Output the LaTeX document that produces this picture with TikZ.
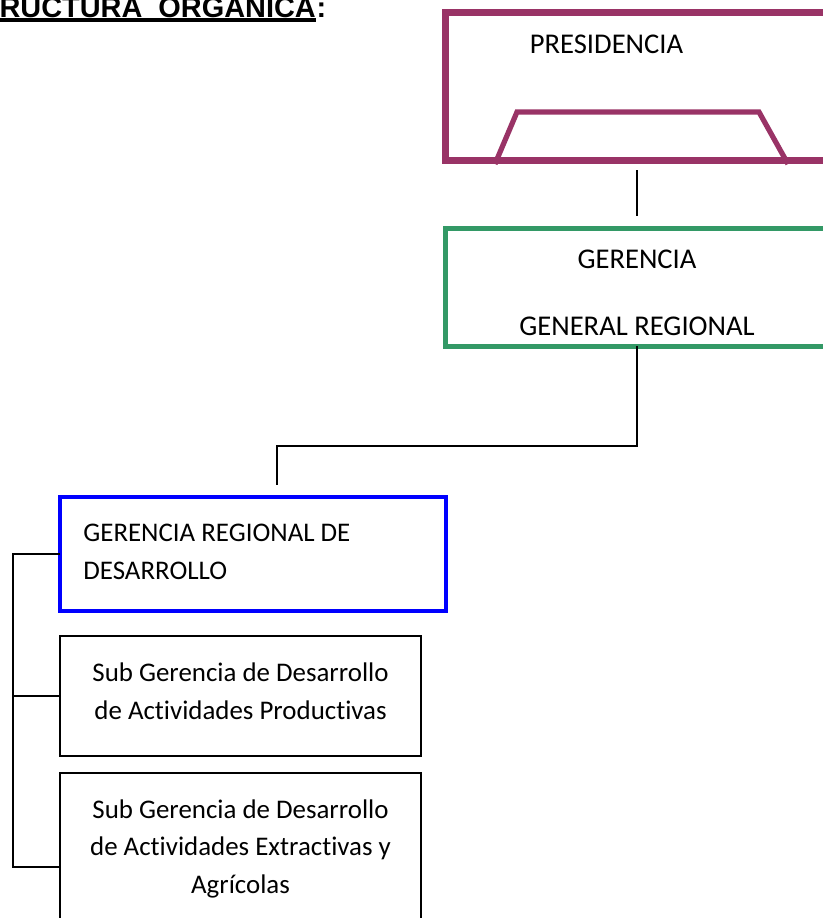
\documentclass[tikz,border=0pt]{standalone}
\usepackage{fontspec}
\setmainfont{Carlito}[Ligatures=NoCommon]
\newfontfamily\titlefont{Liberation Sans}

\definecolor{plum}{RGB}{153,51,102}
\definecolor{leaf}{RGB}{51,153,102}

\begin{document}
\begin{tikzpicture}[x=0.5pt, y=-0.5pt,
    box/.style={draw, inner sep=0, outer sep=0},
    txt/.style={inner sep=0, anchor=base, align=center, font=\fontsize{13.45}{18.6}\selectfont},
    head/.style={inner sep=0, anchor=base west, font=\titlefont\bfseries\fontsize{14.45}{17}\selectfont},
    link/.style={line width=0.9pt}]
    \useasboundingbox (0,0) rectangle (823,918);
    \clip (0,0) rectangle (823,918);

    % title
    \node[head] (title) at (-57,17) {ESTRUCTURA\ \ ORGANICA};
    \node[head] (colon) at (title.base east) {:};
    \draw[line width=1.7pt] ([yshift=-1.5pt]title.base west) -- ([yshift=-1.5pt]title.base east);

    % presidencia
    \node[box, draw=plum, line width=3.5pt, minimum width=227.5pt, minimum height=74pt] (pres) at (672.5,86) {};
    \draw[plum, line width=2.6pt] (495,164) -- (517,112) -- (759,112) -- (788,164);
    \node[txt, font=\fontsize{14.3}{18.6}\selectfont] (presT) at (606.5,53) {PRESIDENCIA};

    % gerencia general regional
    \node[box, draw=leaf, line width=2.5pt, minimum width=192pt, minimum height=59pt] (ger) at (637,287) {};
    \node[txt, font=\fontsize{14.3}{18.6}\selectfont] (gerT) at (637,268) {GERENCIA};
    \node[txt, font=\fontsize{14.3}{18.6}\selectfont] (gerU) at (637,335) {GENERAL REGIONAL};

    % presidencia - gerencia
    \draw[link, shorten <=5pt, shorten >=6pt] (pres.south -| ger.north) -- (ger.north);

    % gerencia regional de desarrollo
    \node[box, draw=blue, line width=1.7pt, minimum width=193pt, minimum height=57pt] (gerdes) at (253,554) {};
    \node[txt, anchor=base west, align=left] (gerdesT) at (83,579) {GERENCIA REGIONAL DE\\DESARROLLO};

    % gerencia - gerencia regional
    \coordinate (drop) at (277,485);
    \draw[link] (ger.south) -- ++(0,100) -| (drop);

    % sub gerencias
    \node[box, line width=1pt, minimum width=180.5pt, minimum height=60pt] (sub1) at (240.5,696) {};
    \node[txt] (sub1T) at (240.5,719) {Sub Gerencia de Desarrollo\\de Actividades Productivas};

    \node[box, line width=1pt, minimum width=180.5pt, minimum height=94pt] (sub2) at (240.5,867) {};
    \node[txt] (sub2T) at (240.5,893) {Sub Gerencia de Desarrollo\\de Actividades Extractivas y\\Agrícolas};

    % bracket
    \coordinate (spine) at (13,0);
    \draw[link] (gerdes.west) -- (gerdes.west -| spine) |- (sub2.west);
    \draw[link] (sub1.west) -- (sub1.west -| spine);
\end{tikzpicture}
\end{document}
